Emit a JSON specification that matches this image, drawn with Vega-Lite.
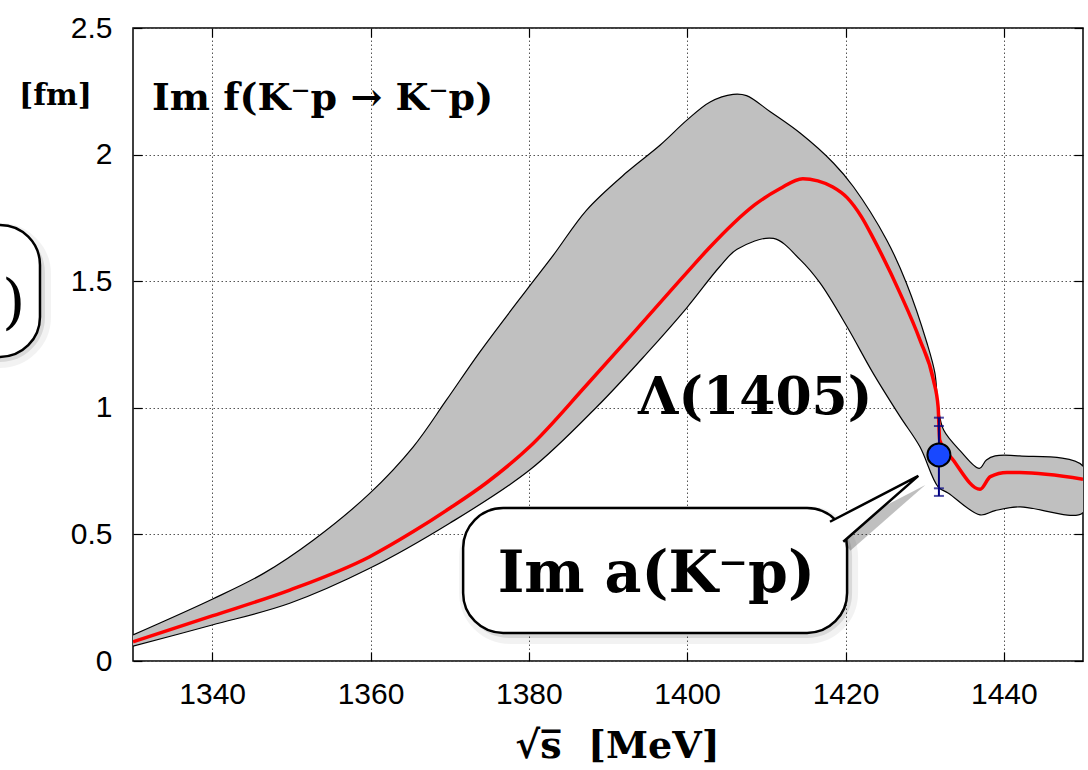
{
  "$schema": "https://vega.github.io/schema/vega-lite/v6.json",
  "width": 950,
  "height": 633,
  "autosize": {"type": "none"},
  "padding": {"left": 133, "top": 28, "right": 5, "bottom": 109},
  "background": "white",
  "config": {
    "view": {"stroke": "black", "strokeWidth": 1.5},
    "axis": {
      "domain": false,
      "labelFont": "Liberation Sans",
      "labelFontSize": 30,
      "labelColor": "black",
      "tickColor": "black",
      "tickWidth": 1.2,
      "tickSize": -9,
      "gridColor": "#555555",
      "gridDash": [1.5, 2.5],
      "gridWidth": 1
    }
  },
  "datasets": {
    "band": [
      {"k": 1, "s": 1330.0, "v": 0.103},
      {"k": 2, "s": 1340.0, "v": 0.244},
      {"k": 3, "s": 1346.5, "v": 0.346},
      {"k": 4, "s": 1352.8, "v": 0.478},
      {"k": 5, "s": 1359.9, "v": 0.662},
      {"k": 6, "s": 1365.4, "v": 0.846},
      {"k": 7, "s": 1369.6, "v": 1.031},
      {"k": 8, "s": 1373.8, "v": 1.22},
      {"k": 9, "s": 1379.7, "v": 1.465},
      {"k": 10, "s": 1383.1, "v": 1.603},
      {"k": 11, "s": 1387.3, "v": 1.781},
      {"k": 12, "s": 1392.4, "v": 1.931},
      {"k": 13, "s": 1396.6, "v": 2.038},
      {"k": 14, "s": 1400.0, "v": 2.137},
      {"k": 15, "s": 1402.9, "v": 2.208},
      {"k": 16, "s": 1405.8, "v": 2.238},
      {"k": 17, "s": 1407.5, "v": 2.233},
      {"k": 18, "s": 1410.5, "v": 2.169},
      {"k": 19, "s": 1414.3, "v": 2.084},
      {"k": 20, "s": 1418.5, "v": 1.966},
      {"k": 21, "s": 1421.0, "v": 1.873},
      {"k": 22, "s": 1425.2, "v": 1.663},
      {"k": 23, "s": 1427.7, "v": 1.492},
      {"k": 24, "s": 1430.3, "v": 1.255},
      {"k": 25, "s": 1431.3, "v": 1.136},
      {"k": 26, "s": 1431.7, "v": 1.004},
      {"k": 27, "s": 1432.4, "v": 0.912},
      {"k": 28, "s": 1434.5, "v": 0.83},
      {"k": 29, "s": 1436.9, "v": 0.761},
      {"k": 30, "s": 1437.8, "v": 0.794},
      {"k": 31, "s": 1438.9, "v": 0.81},
      {"k": 32, "s": 1442.0, "v": 0.81},
      {"k": 33, "s": 1450.0, "v": 0.77},
      {"k": 34, "s": 1450.0, "v": 0.586},
      {"k": 35, "s": 1442.0, "v": 0.609},
      {"k": 36, "s": 1438.9, "v": 0.594},
      {"k": 37, "s": 1437.0, "v": 0.577},
      {"k": 38, "s": 1433.0, "v": 0.663},
      {"k": 39, "s": 1431.7, "v": 0.688},
      {"k": 40, "s": 1429.4, "v": 0.846},
      {"k": 41, "s": 1426.9, "v": 0.965},
      {"k": 42, "s": 1423.5, "v": 1.136},
      {"k": 43, "s": 1420.2, "v": 1.32},
      {"k": 44, "s": 1416.8, "v": 1.492},
      {"k": 45, "s": 1414.3, "v": 1.584},
      {"k": 46, "s": 1410.9, "v": 1.669},
      {"k": 47, "s": 1406.3, "v": 1.626},
      {"k": 48, "s": 1404.1, "v": 1.557},
      {"k": 49, "s": 1399.9, "v": 1.393},
      {"k": 50, "s": 1394.9, "v": 1.215},
      {"k": 51, "s": 1388.6, "v": 1.004},
      {"k": 52, "s": 1380.1, "v": 0.754},
      {"k": 53, "s": 1370.0, "v": 0.544},
      {"k": 54, "s": 1359.9, "v": 0.366},
      {"k": 55, "s": 1349.8, "v": 0.228},
      {"k": 56, "s": 1340.0, "v": 0.142},
      {"k": 57, "s": 1330.0, "v": 0.059}
    ],
    "fit": [
      {"s": 1330.0, "f": 0.076},
      {"s": 1340.0, "f": 0.178},
      {"s": 1349.8, "f": 0.28},
      {"s": 1359.9, "f": 0.412},
      {"s": 1365.4, "f": 0.511},
      {"s": 1370.0, "f": 0.603},
      {"s": 1374.7, "f": 0.705},
      {"s": 1380.1, "f": 0.846},
      {"s": 1387.3, "f": 1.09},
      {"s": 1393.6, "f": 1.31},
      {"s": 1399.9, "f": 1.532},
      {"s": 1402.8, "f": 1.632},
      {"s": 1405.8, "f": 1.727},
      {"s": 1408.6, "f": 1.803},
      {"s": 1411.7, "f": 1.865},
      {"s": 1414.6, "f": 1.905},
      {"s": 1416.5, "f": 1.896},
      {"s": 1418.4, "f": 1.872},
      {"s": 1420.2, "f": 1.83},
      {"s": 1422.0, "f": 1.755},
      {"s": 1423.5, "f": 1.67},
      {"s": 1426.9, "f": 1.452},
      {"s": 1429.4, "f": 1.268},
      {"s": 1431.1, "f": 1.11},
      {"s": 1431.7, "f": 1.004},
      {"s": 1431.9, "f": 0.873},
      {"s": 1433.6, "f": 0.794},
      {"s": 1437.0, "f": 0.678},
      {"s": 1438.3, "f": 0.728},
      {"s": 1440.4, "f": 0.744},
      {"s": 1442.0, "f": 0.744},
      {"s": 1450.0, "f": 0.718}
    ],
    "bubbles": [
      {"x1": 1371.7, "x2": 1420.2, "y1": 0.604, "y2": 0.111},
      {"x1": 1290.0, "x2": 1318.25, "y1": 1.722, "y2": 1.201}
    ],
    "pointer": [
      {"k": 1, "s": 1418.04, "v": 0.55},
      {"k": 2, "s": 1429.2, "v": 0.731},
      {"k": 3, "s": 1419.72, "v": 0.471}
    ]
  },
  "layer": [
    {
      "data": {"name": "band"},
      "mark": {"type": "line", "fill": "#c0c0c0", "stroke": "black", "strokeWidth": 1.2, "interpolate": "catmull-rom", "clip": true},
      "encoding": {
        "x": {
          "field": "s", "type": "quantitative",
          "scale": {"domain": [1330, 1450], "nice": false, "zero": false},
          "axis": {
            "orient": "bottom", "values": [1340, 1360, 1380, 1400, 1420, 1440], "format": "d", "grid": true,
            "labelPadding": 27, "labelFontSize": 30,
            "title": "√s̅\u00a0\u00a0[MeV]", "titleFont": "DejaVu Serif", "titleFontSize": 38, "titleFontWeight": "bold",
            "titleColor": "black", "titleX": 484, "titleY": 96, "titleAlign": "center", "titleBaseline": "alphabetic"
          }
        },
        "y": {
          "field": "v", "type": "quantitative",
          "scale": {"domain": [0, 2.5], "nice": false, "zero": false},
          "axis": {
            "orient": "left", "values": [0, 0.5, 1, 1.5, 2, 2.5], "format": "~g", "grid": true,
            "labelPadding": 30, "labelFontSize": 30,
            "title": "[fm]", "titleAngle": 0, "titleFont": "DejaVu Serif", "titleFontSize": 30, "titleFontWeight": "bold",
            "titleColor": "black", "titleX": -78, "titleY": 76, "titleAlign": "center", "titleBaseline": "alphabetic"
          }
        },
        "order": {"field": "k", "type": "quantitative"}
      }
    },
    {
      "data": {"name": "fit"},
      "mark": {"type": "line", "color": "#ff0000", "strokeWidth": 3.5, "interpolate": "monotone", "clip": true},
      "encoding": {
        "x": {
          "field": "s", "type": "quantitative",
          "scale": {"domain": [1330, 1450], "nice": false, "zero": false},
          "axis": {"orient": "top", "values": [1340, 1360, 1380, 1400, 1420, 1440], "labels": false, "grid": false, "title": null}
        },
        "y": {
          "field": "f", "type": "quantitative",
          "scale": {"domain": [0, 2.5], "nice": false, "zero": false},
          "axis": {"orient": "right", "values": [0, 0.5, 1, 1.5, 2, 2.5], "labels": false, "grid": false, "title": null}
        }
      }
    },
    {
      "data": {"name": "bubbles"},
      "mark": {"type": "rect", "fill": "black", "fillOpacity": 0.1, "stroke": "black", "strokeOpacity": 0.05, "strokeWidth": 22, "cornerRadius": 40, "xOffset": 7, "yOffset": 9},
      "encoding": {
        "x": {"field": "x1", "type": "quantitative", "scale": {"domain": [1330, 1450], "nice": false, "zero": false}, "axis": null},
        "x2": {"field": "x2"},
        "y": {"field": "y1", "type": "quantitative", "scale": {"domain": [0, 2.5], "nice": false, "zero": false}, "axis": null},
        "y2": {"field": "y2"}
      }
    },
    {
      "data": {"name": "bubbles"},
      "mark": {"type": "rect", "fill": "black", "fillOpacity": 0.15, "stroke": "black", "strokeOpacity": 0.1, "strokeWidth": 10, "cornerRadius": 40, "xOffset": 6, "yOffset": 8},
      "encoding": {
        "x": {"field": "x1", "type": "quantitative", "scale": {"domain": [1330, 1450], "nice": false, "zero": false}, "axis": null},
        "x2": {"field": "x2"},
        "y": {"field": "y1", "type": "quantitative", "scale": {"domain": [0, 2.5], "nice": false, "zero": false}, "axis": null},
        "y2": {"field": "y2"}
      }
    },
    {
      "data": {"name": "pointer"},
      "mark": {"type": "line", "fill": "black", "fillOpacity": 0.25, "strokeOpacity": 0, "interpolate": "linear", "xOffset": 7, "yOffset": 9},
      "encoding": {
        "x": {"field": "s", "type": "quantitative", "scale": {"domain": [1330, 1450], "nice": false, "zero": false}, "axis": null},
        "y": {"field": "v", "type": "quantitative", "scale": {"domain": [0, 2.5], "nice": false, "zero": false}, "axis": null},
        "order": {"field": "k", "type": "quantitative"}
      }
    },
    {
      "data": {"name": "bubbles"},
      "mark": {"type": "rect", "fill": "white", "stroke": "black", "strokeWidth": 2.5, "cornerRadius": 40},
      "encoding": {
        "x": {"field": "x1", "type": "quantitative", "scale": {"domain": [1330, 1450], "nice": false, "zero": false}, "axis": null},
        "x2": {"field": "x2"},
        "y": {"field": "y1", "type": "quantitative", "scale": {"domain": [0, 2.5], "nice": false, "zero": false}, "axis": null},
        "y2": {"field": "y2"}
      }
    },
    {
      "data": {"name": "pointer"},
      "mark": {"type": "line", "fill": "white", "stroke": "black", "strokeWidth": 2.5, "interpolate": "linear"},
      "encoding": {
        "x": {"field": "s", "type": "quantitative", "scale": {"domain": [1330, 1450], "nice": false, "zero": false}, "axis": null},
        "y": {"field": "v", "type": "quantitative", "scale": {"domain": [0, 2.5], "nice": false, "zero": false}, "axis": null},
        "order": {"field": "k", "type": "quantitative"}
      }
    },
    {
      "data": {"values": [{"s": 1396.1, "v": 0.274, "label": "Im a(K⁻p)"}]},
      "mark": {"type": "text", "font": "DejaVu Serif", "fontWeight": "bold", "fontSize": 57, "align": "center", "baseline": "alphabetic", "color": "black"},
      "encoding": {
        "x": {"field": "s", "type": "quantitative", "scale": {"domain": [1330, 1450], "nice": false, "zero": false}, "axis": null},
        "y": {"field": "v", "type": "quantitative", "scale": {"domain": [0, 2.5], "nice": false, "zero": false}, "axis": null},
        "text": {"field": "label"}
      }
    },
    {
      "data": {"values": [{"s": 1316.4, "v": 1.34, "label": ")"}]},
      "mark": {"type": "text", "font": "DejaVu Serif", "fontWeight": "normal", "fontSize": 60, "align": "right", "baseline": "alphabetic", "color": "black"},
      "encoding": {
        "x": {"field": "s", "type": "quantitative", "scale": {"domain": [1330, 1450], "nice": false, "zero": false}, "axis": null},
        "y": {"field": "v", "type": "quantitative", "scale": {"domain": [0, 2.5], "nice": false, "zero": false}, "axis": null},
        "text": {"field": "label"}
      }
    },
    {
      "data": {"values": [{"s": 1408.6, "v": 0.975, "label": "Λ(1405)"}]},
      "mark": {"type": "text", "font": "DejaVu Serif", "fontWeight": "bold", "fontSize": 52, "align": "center", "baseline": "alphabetic", "color": "black"},
      "encoding": {
        "x": {"field": "s", "type": "quantitative", "scale": {"domain": [1330, 1450], "nice": false, "zero": false}, "axis": null},
        "y": {"field": "v", "type": "quantitative", "scale": {"domain": [0, 2.5], "nice": false, "zero": false}, "axis": null},
        "text": {"field": "label"}
      }
    },
    {
      "data": {"values": [{"s": 1332.4, "v": 2.176, "label": "Im f(K⁻p → K⁻p)"}]},
      "mark": {"type": "text", "font": "DejaVu Serif", "fontWeight": "bold", "fontSize": 38, "align": "left", "baseline": "alphabetic", "color": "black"},
      "encoding": {
        "x": {"field": "s", "type": "quantitative", "scale": {"domain": [1330, 1450], "nice": false, "zero": false}, "axis": null},
        "y": {"field": "v", "type": "quantitative", "scale": {"domain": [0, 2.5], "nice": false, "zero": false}, "axis": null},
        "text": {"field": "label"}
      }
    },
    {
      "data": {"values": [{"s": 1431.8, "lo": 0.652, "hi": 0.961}]},
      "mark": {"type": "rule", "color": "#000080", "strokeWidth": 2},
      "encoding": {
        "x": {"field": "s", "type": "quantitative", "scale": {"domain": [1330, 1450], "nice": false, "zero": false}, "axis": null},
        "y": {"field": "lo", "type": "quantitative", "scale": {"domain": [0, 2.5], "nice": false, "zero": false}, "axis": null},
        "y2": {"field": "hi"}
      }
    },
    {
      "data": {"values": [{"s": 1431.8, "v": 0.961}, {"s": 1431.8, "v": 0.928}, {"s": 1431.8, "v": 0.682}, {"s": 1431.8, "v": 0.652}]},
      "mark": {"type": "tick", "orient": "horizontal", "color": "#000080", "size": 10, "thickness": 2},
      "encoding": {
        "x": {"field": "s", "type": "quantitative", "scale": {"domain": [1330, 1450], "nice": false, "zero": false}, "axis": null},
        "y": {"field": "v", "type": "quantitative", "scale": {"domain": [0, 2.5], "nice": false, "zero": false}, "axis": null}
      }
    },
    {
      "data": {"values": [{"s": 1431.8, "v": 0.814}]},
      "mark": {"type": "point", "filled": true, "fill": "#1848ff", "stroke": "black", "strokeWidth": 2, "size": 530, "opacity": 1},
      "encoding": {
        "x": {"field": "s", "type": "quantitative", "scale": {"domain": [1330, 1450], "nice": false, "zero": false}, "axis": null},
        "y": {"field": "v", "type": "quantitative", "scale": {"domain": [0, 2.5], "nice": false, "zero": false}, "axis": null}
      }
    }
  ],
  "resolve": {"axis": {"x": "independent", "y": "independent"}}
}
